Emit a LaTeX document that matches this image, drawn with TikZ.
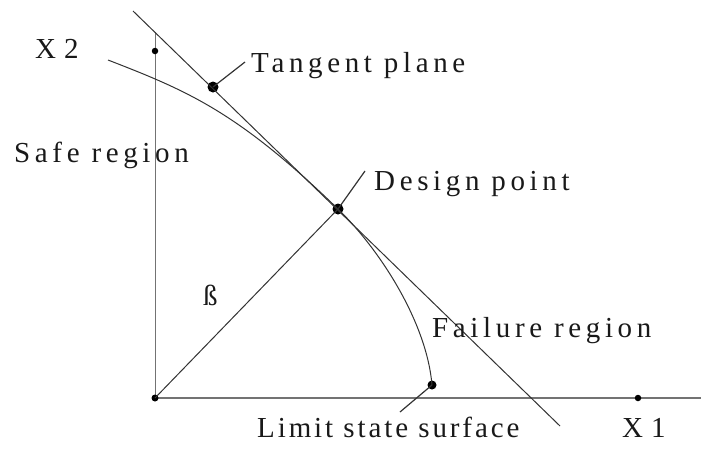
\documentclass[tikz,border=0pt]{standalone}
\usepackage{fontspec}
\setmainfont{Liberation Serif}
\newfontfamily\lblfont[LetterSpace=16]{Liberation Serif}
\newfontfamily\lbltight[LetterSpace=10]{Liberation Serif}
\begin{document}
\begin{tikzpicture}[x=1pt,y=-1pt,
  lbl/.style={anchor=base west,inner sep=0pt,text=black!90,font=\lblfont\fontsize{29}{32}\selectfont},
  lbltt/.style={anchor=base west,inner sep=0pt,text=black!90,font=\lbltight\fontsize{29}{32}\selectfont},
  curve/.style={draw=black!80,line width=1pt},
  axis/.style={draw=black!55,line width=1pt},
  xaxis/.style={draw=black!55,line width=2.4pt},
  bigdot/.style={circle,fill=black,inner sep=0pt,minimum size=11pt},
  smalldot/.style={circle,fill=black,inner sep=0pt,minimum size=6.5pt},
  leader/.style={draw=black!80,line width=1.2pt}]
\useasboundingbox (0,0) rectangle (701,450);
% key points
\coordinate (O) at (155,398);
\coordinate (Ytop) at (155,32);
\coordinate (Xend) at (701,398);
\coordinate (Ttop) at (133,11);
\coordinate (Tend) at (560,426);
\coordinate (Cstart) at (108,60);
\coordinate (Lt) at (245,62);
\coordinate (Ld) at (365,171);
\coordinate (Ll) at (400,412);
% axes
\draw[axis] (O) -- (Ytop);
\draw[xaxis] (O) -- (Xend);
% dots (nodes)
\node[smalldot,minimum size=7pt] (o) at (O) {};
\node[smalldot] (y2) at (155,51) {};
\node[smalldot] (x1) at (638,398) {};
\node[bigdot] (tp) at (213,87) {};
\node[bigdot] (dp) at (338,209) {};
\node[smalldot,minimum size=9pt] (ls) at (432,385) {};
% tangent plane
\draw[curve] (Ttop) -- (Tend);
% limit state surface
\draw[curve] (Cstart) .. controls (188,91) and (238,112) .. (dp.center)
  .. controls (383,253) and (427,325) .. (ls.center);
% beta
\draw[curve] (o.center) -- (dp.center);
% leaders
\draw[leader] (tp.center) -- (Lt);
\draw[leader] (dp.center) -- (Ld);
\draw[leader] (ls.center) -- (Ll);
% labels
\node[lbl] (tx2) at (35,58) {X\kern8pt 2};
\node[lbl] (tt) at (251,72) {Tangent plane};
\node[lbl] (ts) at (14,162) {Safe region};
\node[lbl] (td) at (374,190) {Design point};
\node[lbl] (tb) at (203,305) {ß};
\node[lbl] (tf) at (432,337) {Failure region};
\node[lbltt] (tl) at (257,437) {Limit state surface};
\node[lbl] (tx1) at (622,437) {X\kern8pt 1};
\end{tikzpicture}
\end{document}
